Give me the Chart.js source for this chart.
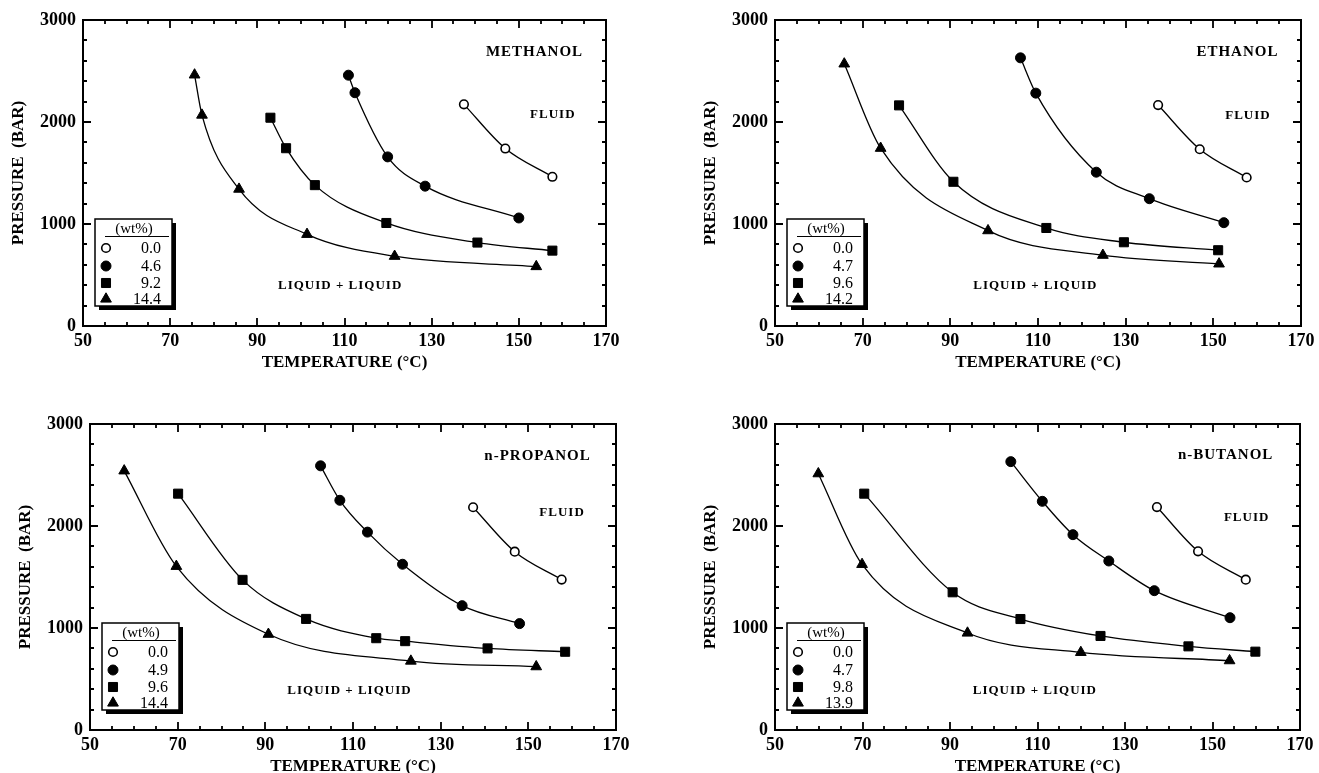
<!DOCTYPE html>
<html>
<head>
<meta charset="utf-8">
<title>Cloud point curves</title>
<script src="https://cdn.jsdelivr.net/npm/chart.js@4.4.1/dist/chart.umd.min.js"></script>
<style>
  html, body { margin: 0; padding: 0; background: #fff; overflow: hidden; }
  body { width: 1319px; height: 773px; position: relative; }
  canvas { position: absolute; }
</style>
</head>
<body>
<canvas id="c0"></canvas>
<canvas id="c1"></canvas>
<canvas id="c2"></canvas>
<canvas id="c3"></canvas>
<script>
// axis tick labels (°C and bar)
const tempTickLabels = [50, 70, 90, 110, 130, 150, 170];
const pressTickLabels = [0, 1000, 2000, 3000];

// METHANOL - series order: 0.0, 4.6, 9.2, 14.4 wt%
const methanolWt = ['0.0', '4.6', '9.2', '14.4'];
const methanolTemp = [
    [137.4, 146.9, 157.7],
    [110.9, 112.4, 119.9, 128.5, 150.0],
    [93.0, 96.6, 103.2, 119.6, 140.5, 157.7],
    [75.6, 77.3, 85.8, 101.4, 121.5, 154.0]
];
const methanolPress = [
    [2173, 1740, 1463],
    [2459, 2287, 1658, 1371, 1059],
    [2042, 1743, 1381, 1010, 818, 739],
    [2462, 2068, 1342, 899, 684, 583]
];

// ETHANOL
const ethanolWt = ['0.0', '4.7', '9.6', '14.2'];
const ethanolTemp = [
    [137.4, 146.9, 157.6],
    [106.0, 109.5, 123.3, 135.4, 152.4],
    [78.3, 90.7, 111.9, 129.6, 151.1],
    [65.8, 74.1, 98.6, 124.8, 151.3]
];
const ethanolPress = [
    [2166, 1733, 1456],
    [2629, 2283, 1508, 1248, 1013],
    [2163, 1414, 961, 821, 743],
    [2570, 1743, 935, 694, 609]
];

// n-PROPANOL
const propanolWt = ['0.0', '4.9', '9.6', '14.4'];
const propanolTemp = [
    [137.4, 146.9, 157.6],
    [102.6, 107.0, 113.3, 121.3, 134.9, 148.0],
    [70.1, 84.8, 99.3, 115.3, 121.9, 140.7, 158.4],
    [57.8, 69.7, 90.7, 123.2, 151.8]
];
const propanolPress = [
    [2184, 1748, 1475],
    [2590, 2252, 1940, 1625, 1219, 1043],
    [2317, 1472, 1089, 900, 871, 800, 767],
    [2541, 1605, 939, 676, 621]
];

// n-BUTANOL
const butanolWt = ['0.0', '4.7', '9.8', '13.9'];
const butanolTemp = [
    [137.3, 146.7, 157.6],
    [103.9, 111.1, 118.1, 126.3, 136.7, 154.0],
    [70.4, 90.6, 106.1, 124.4, 144.5, 159.8],
    [59.9, 69.9, 94.0, 119.9, 153.9]
];
const butanolPress = [
    [2186, 1752, 1474],
    [2631, 2242, 1915, 1657, 1366, 1101],
    [2317, 1350, 1088, 922, 820, 768],
    [2513, 1624, 951, 761, 680]
];

const SERIF = '"Liberation Serif", "Times New Roman", serif';
const AXIS_W = 83;   // room for y labels + title
const PAD_TOP = 20;
const PLOT_H = 306;
const CANVAS_W = 660;
const CANVAS_H = 376;

// marker look per series (open circle, dot, square, triangle)
const markerStyles = ['circle', 'circle', 'rect', 'triangle'];
const markerFills = ['#fff', '#000', '#000', '#000'];
const markerRadius = [4.3, 5, 6.4, 6.2];

const panels = [
    { id: 'c0', plotLeft: 83, plotTop: 20, plotW: 523, name: 'METHANOL', wt: methanolWt, temp: methanolTemp, press: methanolPress,
      nameAt: [153.6, 2681], fluidAt: [157.8, 2068], llAt: [109, 391] },
    { id: 'c1', plotLeft: 775, plotTop: 20, plotW: 526, name: 'ETHANOL', wt: ethanolWt, temp: ethanolTemp, press: ethanolPress,
      nameAt: [155.5, 2681], fluidAt: [157.9, 2062], llAt: [109.4, 391] },
    { id: 'c2', plotLeft: 90, plotTop: 424, plotW: 526, name: 'n-PROPANOL', wt: propanolWt, temp: propanolTemp, press: propanolPress,
      nameAt: [152.1, 2688], fluidAt: [157.7, 2128], llAt: [109.2, 390] },
    { id: 'c3', plotLeft: 775, plotTop: 424, plotW: 525, name: 'n-BUTANOL', wt: butanolWt, temp: butanolTemp, press: butanolPress,
      nameAt: [153, 2693], fluidAt: [157.8, 2082], llAt: [109.4, 389] }
];

// frame, inward ticks, region labels and the boxed legend
function makeDecor(panel) {
    return {
        id: 'decor',
        afterDatasetsDraw(chart) {
            const ctx = chart.ctx;
            const ca = chart.chartArea;
            const xs = chart.scales.x;
            const ys = chart.scales.y;
            ctx.save();
            ctx.strokeStyle = '#000';
            ctx.lineWidth = 2;
            ctx.strokeRect(ca.left, ca.top, ca.right - ca.left, ca.bottom - ca.top);

            ctx.lineWidth = 1.8;
            ctx.beginPath();
            xs.ticks.forEach(t => {
                const px = Math.round(xs.getPixelForValue(t.value));
                const len = tempTickLabels.includes(t.value) ? 8 : 4;
                ctx.moveTo(px, ca.bottom); ctx.lineTo(px, ca.bottom - len);
                ctx.moveTo(px, ca.top); ctx.lineTo(px, ca.top + len);
            });
            ys.ticks.forEach(t => {
                const py = Math.round(ys.getPixelForValue(t.value));
                const len = pressTickLabels.includes(t.value) ? 8 : 4;
                ctx.moveTo(ca.left, py); ctx.lineTo(ca.left + len, py);
                ctx.moveTo(ca.right, py); ctx.lineTo(ca.right - len, py);
            });
            ctx.stroke();

            ctx.fillStyle = '#000';
            ctx.textAlign = 'center';
            ctx.textBaseline = 'middle';
            ctx.letterSpacing = '1px';
            const labels = [
                [panel.name, panel.nameAt, 15],
                ['FLUID', panel.fluidAt, 13],
                ['LIQUID + LIQUID', panel.llAt, 13]
            ];
            labels.forEach(([text, at, size]) => {
                ctx.font = `bold ${size}px ${SERIF}`;
                ctx.fillText(text, xs.getPixelForValue(at[0]), ys.getPixelForValue(at[1]));
            });
            ctx.restore();
        },
        afterDraw(chart) {
            const ctx = chart.ctx;
            const ca = chart.chartArea;
            const bx = ca.left + 12, by = ca.top + 199, bw = 77, bh = 87;
            ctx.save();
            ctx.fillStyle = '#000';
            ctx.fillRect(bx + 4, by + 4, bw, bh);
            ctx.fillStyle = '#fff';
            ctx.fillRect(bx, by, bw, bh);
            ctx.strokeStyle = '#000';
            ctx.lineWidth = 1.5;
            ctx.strokeRect(bx, by, bw, bh);

            ctx.fillStyle = '#000';
            ctx.font = `15px ${SERIF}`;
            ctx.textAlign = 'center';
            ctx.textBaseline = 'middle';
            ctx.fillText('(wt%)', bx + 39, by + 10);
            ctx.lineWidth = 1.2;
            ctx.beginPath();
            ctx.moveTo(bx + 10, by + 17.5);
            ctx.lineTo(bx + 74, by + 17.5);
            ctx.stroke();

            const rows = [29, 47, 64, 80];
            ctx.font = `16px ${SERIF}`;
            ctx.textAlign = 'right';
            chart.data.datasets.forEach((ds, i) => {
                const y = by + rows[i];
                ctx.fillStyle = ds.pointBackgroundColor;
                ctx.strokeStyle = '#000';
                ctx.lineWidth = ds.pointBorderWidth;
                Chart.helpers.drawPoint(ctx, {
                    pointStyle: ds.pointStyle,
                    radius: ds.pointRadius,
                    borderWidth: ds.pointBorderWidth,
                    rotation: 0
                }, bx + 11, y);
                ctx.fillStyle = '#000';
                ctx.fillText(ds.label, bx + 66, y + 1);
            });
            ctx.restore();
        }
    };
}

panels.forEach(panel => {
    const canvas = document.getElementById(panel.id);
    canvas.width = CANVAS_W;
    canvas.height = CANVAS_H;
    canvas.style.left = (panel.plotLeft - AXIS_W) + 'px';
    canvas.style.top = (panel.plotTop - PAD_TOP) + 'px';

    const datasets = panel.temp.map((temps, i) => ({
        label: panel.wt[i],
        data: temps.map((t, j) => ({ x: t, y: panel.press[i][j] })),
        borderColor: '#000',
        borderWidth: 1.3,
        fill: false,
        cubicInterpolationMode: 'monotone',
        pointStyle: markerStyles[i],
        pointRadius: markerRadius[i],
        pointBackgroundColor: markerFills[i],
        pointBorderColor: '#000',
        pointBorderWidth: i === 0 ? 1.6 : 1
    }));

    new Chart(canvas.getContext('2d'), {
        type: 'line',
        data: { datasets },
        options: {
            responsive: false,
            animation: false,
            devicePixelRatio: 1,
            layout: {
                padding: { left: 0, top: PAD_TOP, right: CANVAS_W - AXIS_W - panel.plotW, bottom: 0 }
            },
            plugins: {
                legend: { display: false },
                tooltip: { enabled: false }
            },
            scales: {
                x: {
                    type: 'linear',
                    min: 50,
                    max: 170,
                    afterFit: s => { s.height = CANVAS_H - PAD_TOP - PLOT_H; },
                    grid: { display: false, drawTicks: false },
                    border: { display: false },
                    ticks: {
                        count: 25,
                        autoSkip: false,
                        maxRotation: 0,
                        padding: 5,
                        color: '#000',
                        font: { family: SERIF, weight: 'bold', size: 18 },
                        callback: v => tempTickLabels.includes(v) ? String(v) : ''
                    },
                    title: {
                        display: true,
                        text: 'TEMPERATURE (°C)',
                        color: '#000',
                        font: { family: SERIF, weight: 'bold', size: 17 },
                        padding: { top: 0, bottom: 3 }
                    }
                },
                y: {
                    min: 0,
                    max: 3000,
                    afterFit: s => { s.width = AXIS_W; },
                    grid: { display: false, drawTicks: false },
                    border: { display: false },
                    ticks: {
                        count: 16,
                        autoSkip: false,
                        padding: 7,
                        color: '#000',
                        font: { family: SERIF, weight: 'bold', size: 18, lineHeight: 1 },
                        callback: v => pressTickLabels.includes(v) ? String(v) : ''
                    },
                    title: {
                        display: true,
                        text: 'PRESSURE  (BAR)',
                        color: '#000',
                        font: { family: SERIF, weight: 'bold', size: 17 },
                        padding: { top: 8, bottom: 0 }
                    }
                }
            }
        },
        plugins: [makeDecor(panel)]
    });
});
</script>
</body>
</html>
